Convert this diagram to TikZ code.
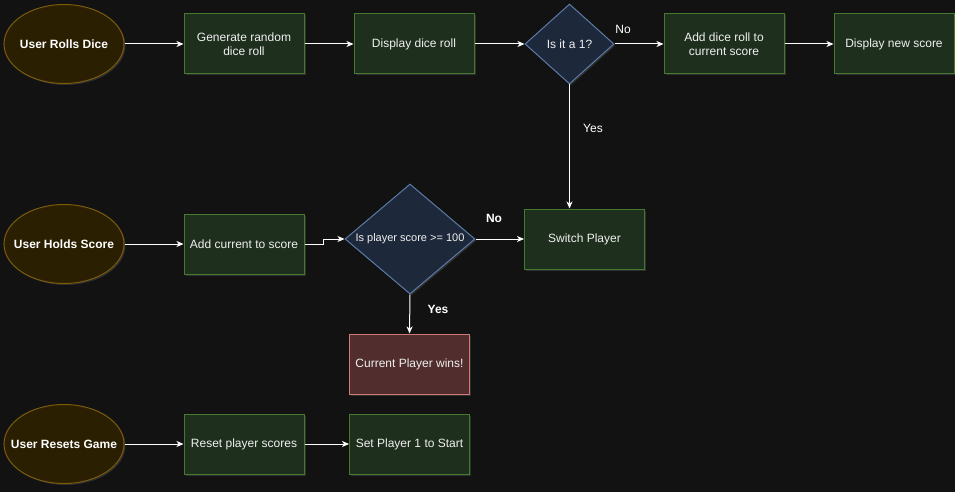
\documentclass[tikz,border=0pt]{standalone}
\usepackage{fontspec}
\setmainfont{Liberation Sans}
\usepackage{xcolor}
\usetikzlibrary{shapes.geometric, arrows.meta, positioning, shadows}

\definecolor{bgdark}{HTML}{121212}
\definecolor{boxfill}{HTML}{1F2F1E}
\definecolor{boxline}{HTML}{457A2E}
\definecolor{ovalfill}{HTML}{2A1F00}
\definecolor{ovalline}{HTML}{7A5C0A}
\definecolor{askfill}{HTML}{1D293B}
\definecolor{askline}{HTML}{5A7BA8}
\definecolor{winfill}{HTML}{512D2D}
\definecolor{winline}{HTML}{D07A78}
\definecolor{txt}{HTML}{F0F0F0}

% keep the oval at its own size, whatever the text width
\newcommand{\evtext}[1]{\makebox[0pt]{#1}}

\begin{document}
\begin{tikzpicture}[x=1pt, y=-1pt, font=\fontsize{12}{14}\selectfont]
		\tikzstyle{glow}=[drop shadow={shadow xshift=1.5pt, shadow yshift=-1.5pt, fill=white, opacity=0.12}]
		\tikzstyle{event}=[ellipse, draw=ovalline, fill=ovalfill, line width=1pt, minimum width=120pt, minimum height=79pt, inner sep=0pt, text=white, font=\fontsize{12}{14}\selectfont\bfseries, glow]
		\tikzstyle{task}=[draw=boxline, fill=boxfill, line width=1pt, minimum width=120pt, minimum height=60pt, inner sep=0pt, text=txt, align=center, glow]
		\tikzstyle{ask}=[diamond, draw=askline, fill=askfill, line width=1pt, inner sep=0pt, text=txt, glow]
		\tikzstyle{win}=[task, draw=winline, fill=winfill]
		\tikzstyle{flow}=[draw=white, line width=1pt, -{Stealth[length=7pt, width=6pt, inset=2pt]}]
		\tikzstyle{lbl}=[text=white]
		
		\fill[bgdark] (0,0) rectangle (955,492);
		\useasboundingbox (0,0) rectangle (955,492);
		
		% roll row
		\node (urolls) at (64,44) [event] {\evtext{User Rolls Dice}};
		\node (tgen) at (244,44) [task] {Generate random\\dice roll};
		\node (tshow) at (414,44) [task] {Display dice roll};
		\node (qone) at (569.5,44) [ask, minimum width=89pt, minimum height=80pt, aspect=1.11] {Is it a 1?};
		\node (tadd) at (724,44) [task] {Add dice roll to\\current score};
		\node (tnew) at (894,44) [task] {Display new score};
		
		% hold row
		\node (uholds) at (64,244) [event] {\evtext{User Holds Score}};
		\node (tcur) at (244,244) [task] {Add current to score};
		\node (qscore) at (410,239) [ask, minimum width=130pt, minimum height=110pt, aspect=1.18, font=\fontsize{11}{13}\selectfont] {Is player score >= 100};
		\node (tswitch) at (584.5,239) [task] {Switch Player};
		\node (twin) at (409.5,364) [win] {Current Player wins!};
		
		% reset row
		\node (uresets) at (64,444) [event] {\evtext{User Resets Game}};
		\node (treset) at (244,444) [task] {Reset player scores};
		\node (tstart) at (409.5,444) [task] {Set Player 1 to Start};
		
		\draw[flow] (urolls) -- (tgen);
		\draw[flow] (tgen) -- (tshow);
		\draw[flow] (tshow) -- (qone);
		\draw[flow] (qone) -- (tadd);
		\draw[flow] (tadd) -- (tnew);
		\draw[flow] (qone.south) -- (qone.south |- tswitch.north);
		\node at (623,29) [lbl] {No};
		\node at (593,128) [lbl] {Yes};
		
		\draw[flow] (uholds) -- (tcur);
		\draw[flow] (tcur.east) -- ++(19,0) |- (qscore.west);
		\draw[flow] (qscore) -- (tswitch);
		\draw[flow] (qscore.south) -- (twin.north);
		\node at (494,218) [lbl, font=\fontsize{12}{14}\selectfont\bfseries] {No};
		\node at (438,309) [lbl, font=\fontsize{12}{14}\selectfont\bfseries] {Yes};
		
		\draw[flow] (uresets) -- (treset);
		\draw[flow] (treset) -- (tstart);
		
\end{tikzpicture}
\end{document}
